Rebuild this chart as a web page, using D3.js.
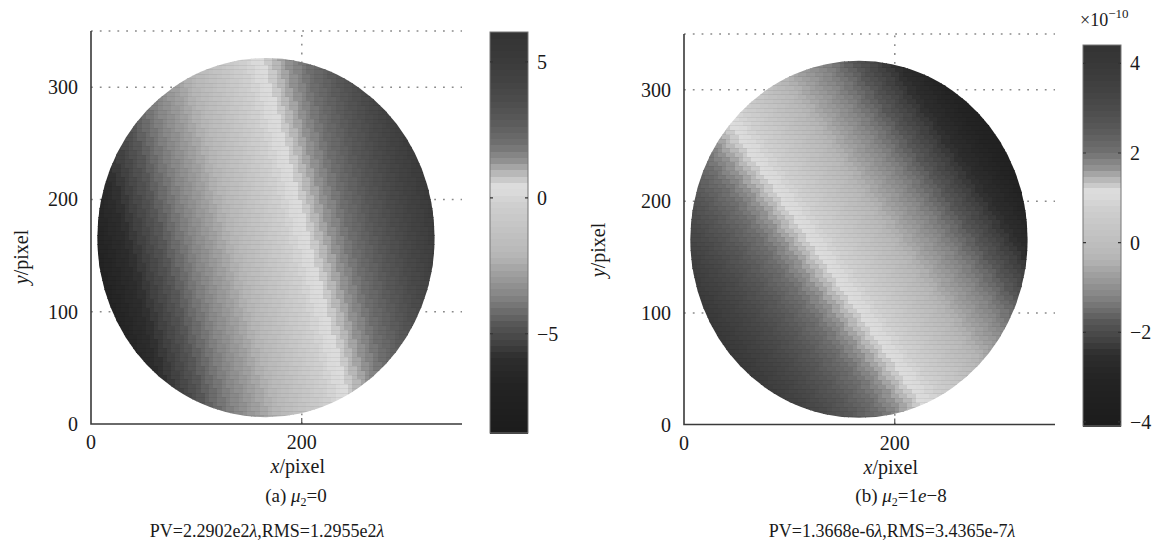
<!DOCTYPE html>
<html><head><meta charset="utf-8">
<script src="https://cdn.jsdelivr.net/npm/d3@7"></script>
<style>
body{margin:0;background:#fff;}
text{fill:#1a1a1a;}
</style></head><body>
<svg id="chart" width="1153" height="550" font-family="'Liberation Serif', 'Times New Roman', Times, 'DejaVu Serif', serif"></svg>
<script>
// axis ticks and grid positions (pixels)
const xTicks = [0, 200];
const yTicks = [0, 100, 200, 300];
const gridY = [100, 200, 300, 350];
const gridX = [200];
const xDomain = [0, 352];
const yDomain = [0, 350];

// circular pupil (pixels)
const pupilCenter = [166, 166];
const pupilRadius = 160;
const sampleStep = 4;

// residual wavefront: value at pupil centre, tilt per pixel along x and y
const residualA = [-0.95, 0.0367, 0.0098];
const residualB = [0.31, -0.0186, -0.0135];

// colour bar limits and ticks
const climA = [-8.65, 6.1];
const climB = [-4.09, 4.41];
const cbTicksA = [-5, 0, 5];
const cbTicksB = [-4, -2, 0, 2, 4];

// grey colour map: position along the bar -> grey level, 64 steps
const cmapPos  = [0, 0.12, 0.19, 0.23, 0.27, 0.31, 0.35, 0.40, 0.44, 0.50, 0.57, 0.615, 0.645, 0.68, 0.72, 0.78, 0.85, 0.92, 1];
const cmapGrey = [28, 35, 46, 68, 85, 112, 136, 160, 181, 194, 207, 222, 188, 145, 113, 89, 72, 60, 51];
const cmapLevels = 64;

const svg = d3.select("#chart");
const greyAt = d3.scaleLinear().domain(cmapPos).range(cmapGrey).clamp(true);
function levelColour(t) {
  const k = Math.min(cmapLevels - 1, Math.max(0, Math.floor(t * cmapLevels)));
  const g = Math.round(greyAt((k + 0.5) / cmapLevels));
  return `rgb(${g},${g},${g})`;
}

const panels = [
  { id: "a", coef: residualA, clim: climA, cbTicks: cbTicksA,
    xr: [91, 462], yr: [424, 31],
    cb: { x: 490, w: 38, y0: 433, y1: 32 },
    yLabelX: 22, yLabelY: 257,
    caption: "a", capX: 296,
    stats: ["PV=2.2902e2", "λ", ",RMS=1.2955e2", "λ"], statX: 267 },
  { id: "b", coef: residualB, clim: climB, cbTicks: cbTicksB,
    xr: [684, 1055], yr: [424.5, 34],
    cb: { x: 1083, w: 38, y0: 426, y1: 45 },
    yLabelX: 599, yLabelY: 250,
    caption: "b", capX: 901,
    stats: ["PV=1.3668e-6", "λ", ",RMS=3.4365e-7", "λ"], statX: 892, exponent: "−10" }
];

const dotted = { stroke: "#8a8a8a", width: 1.5, dash: "1.8,7" };

panels.forEach(p => {
  const x = d3.scaleLinear().domain(xDomain).range(p.xr);
  const y = d3.scaleLinear().domain(yDomain).range(p.yr);
  const g = svg.append("g");

  // dotted grid
  g.selectAll(".gy").data(gridY).join("line")
    .attr("x1", x(0)).attr("x2", x(xDomain[1]))
    .attr("y1", d => y(d)).attr("y2", d => y(d))
    .attr("stroke", dotted.stroke).attr("stroke-width", dotted.width)
    .attr("stroke-dasharray", dotted.dash);
  g.selectAll(".gx").data(gridX).join("line")
    .attr("x1", d => x(d)).attr("x2", d => x(d))
    .attr("y1", y(0)).attr("y2", y(yDomain[1]))
    .attr("stroke", dotted.stroke).attr("stroke-width", dotted.width)
    .attr("stroke-dasharray", dotted.dash);

  // pupil clip
  const clipId = "pupil-" + p.id;
  svg.append("defs").append("clipPath").attr("id", clipId)
    .append("ellipse")
    .attr("cx", x(pupilCenter[0])).attr("cy", y(pupilCenter[1]))
    .attr("rx", x(pupilRadius) - x(0)).attr("ry", y(0) - y(pupilRadius));

  // sampled wavefront cells
  const cmapT = d3.scaleLinear().domain(p.clim).range([0, 1]);
  const cells = [];
  const rows = [];
  for (let cy = 0; cy < yDomain[1]; cy += sampleStep) rows.push(cy);
  for (let cx = 0; cx < xDomain[1]; cx += sampleStep) {
    for (const cy of rows) {
      const mx = cx + sampleStep / 2 - pupilCenter[0];
      const my = cy + sampleStep / 2 - pupilCenter[1];
      if (Math.hypot(mx, my) > pupilRadius + sampleStep * 1.5) continue;
      const v = p.coef[0] + p.coef[1] * mx + p.coef[2] * my;
      cells.push({ cx, cy, v });
    }
  }
  const field = g.append("g").attr("clip-path", `url(#${clipId})`)
    .attr("shape-rendering", "crispEdges");
  field.selectAll("rect").data(cells).join("rect")
    .attr("x", d => x(d.cx)).attr("y", d => y(d.cy + sampleStep))
    .attr("width", x(sampleStep) - x(0) + 0.4)
    .attr("height", y(0) - y(sampleStep) + 0.4)
    .attr("fill", d => levelColour(cmapT(d.v)));
  // faint mesh rows of the surface
  field.selectAll("line").data(rows).join("line")
    .attr("x1", x(0)).attr("x2", x(xDomain[1]))
    .attr("y1", d => Math.round(y(d))).attr("y2", d => Math.round(y(d)))
    .attr("stroke", "#000").attr("stroke-opacity", 0.06).attr("stroke-width", 1);

  // axes lines
  g.append("path")
    .attr("d", `M${x(0)},${y(yDomain[1])}V${y(0)}H${x(xDomain[1])}`)
    .attr("fill", "none").attr("stroke", "#3a3a3a").attr("stroke-width", 1.6);
  // inward x tick marks
  g.selectAll(".xt").data(xTicks.filter(d => d > 0)).join("line")
    .attr("x1", d => x(d)).attr("x2", d => x(d))
    .attr("y1", y(0)).attr("y2", y(0) - 6)
    .attr("stroke", "#3a3a3a").attr("stroke-width", 1);

  // tick labels
  g.selectAll(".xl").data(xTicks).join("text")
    .attr("x", d => x(d)).attr("y", y(0) + 25)
    .attr("text-anchor", "middle").attr("font-size", 20).text(d => d);
  g.selectAll(".yl").data(yTicks).join("text")
    .attr("x", x(0) - 13).attr("y", d => y(d) + 7)
    .attr("text-anchor", "end").attr("font-size", 20).text(d => d);

  // axis titles
  const xt = g.append("text").attr("x", x(200) - 4).attr("y", y(0) + 49)
    .attr("text-anchor", "middle").attr("font-size", 20);
  xt.append("tspan").attr("font-style", "italic").text("x");
  xt.append("tspan").text("/pixel");
  const yt = g.append("text")
    .attr("transform", `translate(${p.yLabelX + 6},${p.yLabelY}) rotate(-90)`)
    .attr("text-anchor", "middle").attr("font-size", 20);
  yt.append("tspan").attr("font-style", "italic").text("y");
  yt.append("tspan").text("/pixel");

  // colour bar
  const cbY = d3.scaleLinear().domain(p.clim).range([p.cb.y0, p.cb.y1]);
  const bands = d3.range(cmapLevels);
  const bandH = (p.cb.y0 - p.cb.y1) / cmapLevels;
  g.append("g").attr("shape-rendering", "crispEdges")
    .selectAll("rect").data(bands).join("rect")
    .attr("x", p.cb.x).attr("width", p.cb.w)
    .attr("y", k => p.cb.y0 - (k + 1) * bandH).attr("height", bandH + 0.6)
    .attr("fill", k => levelColour((k + 0.5) / cmapLevels));
  g.append("rect").attr("x", p.cb.x).attr("y", p.cb.y1)
    .attr("width", p.cb.w).attr("height", p.cb.y0 - p.cb.y1)
    .attr("fill", "none").attr("stroke", "#777").attr("stroke-width", 1);
  g.selectAll(".cbt").data(p.cbTicks).join("path")
    .attr("d", d => `M${p.cb.x},${cbY(d)}h3M${p.cb.x + p.cb.w},${cbY(d)}h-3`)
    .attr("stroke", "#333").attr("stroke-width", 1.2);
  g.selectAll(".cbl").data(p.cbTicks).join("text")
    .attr("x", p.cb.x + p.cb.w + 9).attr("y", d => cbY(d) + 7)
    .attr("font-size", 20).text(d => d < 0 ? "−" + Math.abs(d) : d);
  if (p.exponent) {
    const ex = g.append("text").attr("x", p.cb.x - 3).attr("y", 26).attr("font-size", 18);
    ex.append("tspan").text("×10");
    ex.append("tspan").attr("font-size", 13).attr("dy", -8).text(p.exponent);
  }

  // captions
  const cap = g.append("text").attr("x", p.capX).attr("y", 502)
    .attr("text-anchor", "middle").attr("font-size", 19);
  cap.append("tspan").text(`(${p.caption}) `);
  cap.append("tspan").attr("font-style", "italic").text("μ");
  cap.append("tspan").attr("font-size", 12).attr("dy", 4).text("2");
  if (p.id === "a") {
    cap.append("tspan").attr("dy", -4).text("=0");
  } else {
    cap.append("tspan").attr("dy", -4).text("=1");
    cap.append("tspan").attr("font-style", "italic").text("e");
    cap.append("tspan").text("−8");
  }
  const st = g.append("text").attr("x", p.statX).attr("y", 537)
    .attr("text-anchor", "middle").attr("font-size", 18);
  p.stats.forEach((s, i) => {
    st.append("tspan").attr("font-style", i % 2 ? "italic" : null).text(s);
  });
});
</script>
</body></html>
